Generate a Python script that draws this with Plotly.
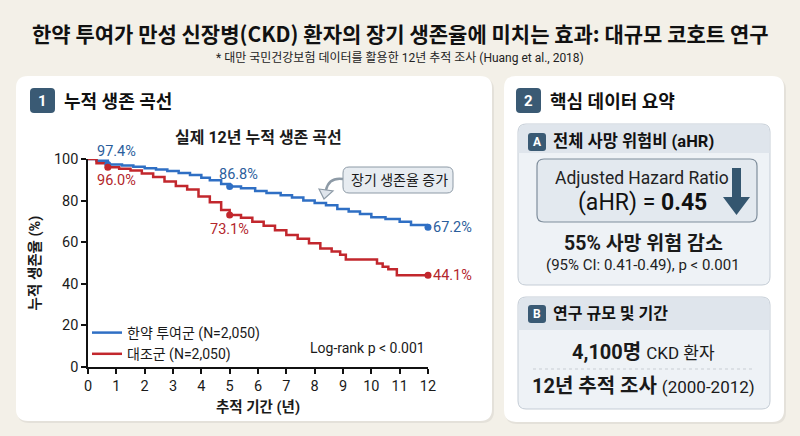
import plotly.graph_objects as go

W, H = 800, 436

# 누적 생존 곡선 데이터
years_herb = [0, 0.3, 0.7, 1.2, 1.6, 2.0, 2.4, 2.8, 3.2, 3.6, 4.0, 4.3, 4.7, 5.0,
              5.4, 5.9, 6.3, 6.8, 7.2, 7.6, 8.0, 8.4, 8.8, 9.2, 9.6, 10.0, 10.5,
              11.0, 11.4, 12.0]
surv_herb = [100, 99.2, 97.4, 96.9, 96.3, 95.6, 94.9, 94.2, 93.3, 92.3, 91.0, 89.8,
             88.0, 86.8, 85.9, 84.6, 83.7, 82.6, 81.5, 80.0, 78.9, 77.8, 76.0, 74.8,
             73.5, 72.0, 71.1, 69.8, 68.3, 67.2]

years_ctrl = [0, 0.3, 0.7, 1.1, 1.5, 1.9, 2.3, 2.7, 3.1, 3.5, 3.9, 4.3, 4.7, 5.0,
              5.4, 5.8, 6.2, 6.6, 7.0, 7.4, 7.8, 8.2, 8.6, 8.9, 9.1, 10.2, 10.4,
              10.6, 10.9, 12.0]
surv_ctrl = [100, 98.0, 96.0, 95.3, 94.5, 93.0, 91.4, 89.2, 87.0, 85.3, 82.0, 79.2,
             75.5, 73.1, 71.8, 69.8, 67.9, 65.8, 63.5, 61.6, 59.5, 57.0, 55.5, 54.0,
             51.7, 49.8, 48.2, 47.0, 44.1, 44.1]

mark_years = [0.7, 5, 12]
mark_herb = [97.4, 86.8, 67.2]
mark_ctrl = [96.0, 73.1, 44.1]

x_ticks = list(range(0, 13))
y_ticks = [0, 20, 40, 60, 80, 100]

BLUE = "#2f6fc4"
RED = "#c2272d"
BLUE_TXT = "#2b5e9c"
RED_TXT = "#b3262b"
SLATE = "#3a5a74"
FONT = "Roboto, 'Noto Sans CJK KR', sans-serif"
KFONT = "'Noto Sans CJK KR', Roboto, sans-serif"


def X(x):
    return x / W


def Y(y):
    return 1 - y / H


def rrect(x0, y0, x1, y1, r, fill, line="rgba(0,0,0,0)", lw=0, bottom=True):
    rb = r if bottom else 0
    p = (f"M{X(x0 + r)},{Y(y0)} L{X(x1 - r)},{Y(y0)} Q{X(x1)},{Y(y0)} {X(x1)},{Y(y0 + r)} "
         f"L{X(x1)},{Y(y1 - rb)} Q{X(x1)},{Y(y1)} {X(x1 - rb)},{Y(y1)} "
         f"L{X(x0 + rb)},{Y(y1)} Q{X(x0)},{Y(y1)} {X(x0)},{Y(y1 - rb)} "
         f"L{X(x0)},{Y(y0 + r)} Q{X(x0)},{Y(y0)} {X(x0 + r)},{Y(y0)} Z")
    return dict(type="path", xref="paper", yref="paper", path=p, fillcolor=fill,
                line=dict(color=line, width=lw), layer="below")


def text(x, y, s, size=14, color="#1a1a1a", anchor="center", font=FONT):
    return dict(x=X(x), y=Y(y), xref="paper", yref="paper", text=s, showarrow=False,
                xanchor=anchor, yanchor="middle", font=dict(size=size, color=color, family=font))


fig = go.Figure()

fig.add_trace(go.Scatter(x=years_herb, y=surv_herb, mode="lines", line_shape="hv",
                         line=dict(color=BLUE, width=2.5), name="한약 투여군 (N=2,050)",
                         cliponaxis=False))
fig.add_trace(go.Scatter(x=years_ctrl, y=surv_ctrl, mode="lines", line_shape="hv",
                         line=dict(color=RED, width=2.5), name="대조군 (N=2,050)",
                         cliponaxis=False))
fig.add_trace(go.Scatter(x=mark_years, y=mark_herb, mode="markers", showlegend=False,
                         marker=dict(color=BLUE, size=7), cliponaxis=False))
fig.add_trace(go.Scatter(x=mark_years, y=mark_ctrl, mode="markers", showlegend=False,
                         marker=dict(color=RED, size=7), cliponaxis=False))

shapes = [
    # 카드 그림자와 카드
    rrect(17, 78, 494, 423, 12, "rgba(0,0,0,0.06)"),
    rrect(16, 76, 492, 421, 12, "white"),
    rrect(505, 78, 786, 424, 12, "rgba(0,0,0,0.06)"),
    rrect(504, 76, 784, 422, 12, "white"),
    # 번호 배지
    rrect(30, 88, 55, 113, 4, SLATE),
    rrect(516, 88, 541, 113, 4, SLATE),
    # 박스 A
    rrect(518, 124, 770, 285, 8, "#eef2f6", "#c5cdd6", 1),
    rrect(518.5, 124.5, 769.5, 153, 8, "#dfe5ec", bottom=False),
    rrect(528, 133, 546, 151, 3, SLATE),
    rrect(537, 159, 757, 222, 7, "#e3e9ef", "#7f8e9c", 1.2),
    # 박스 B
    rrect(518, 297, 770, 409, 8, "#eef2f6", "#c5cdd6", 1),
    rrect(518.5, 297.5, 769.5, 330, 8, "#dfe5ec", bottom=False),
    rrect(528, 305, 546, 323, 3, SLATE),
    # 말풍선
    rrect(343, 167, 453, 193, 6, "#e7ecf1", "#8d9aa6", 1),
]
# 아래 화살표
arrow = (f"M{X(732)},{Y(168)} L{X(741)},{Y(168)} L{X(741)},{Y(197)} L{X(750)},{Y(197)} "
         f"L{X(736.5)},{Y(215)} L{X(723)},{Y(197)} L{X(732)},{Y(197)} Z")
shapes.append(dict(type="path", xref="paper", yref="paper", path=arrow,
                   fillcolor="#34566f", line=dict(width=0)))
# 말풍선 곡선 화살표
curve = f"M{X(343)},{Y(179)} Q{X(329)},{Y(177)} {X(326)},{Y(190)}"
shapes.append(dict(type="path", xref="paper", yref="paper", path=curve,
                   line=dict(color="#8d9aa6", width=2.5)))
head = f"M{X(319)},{Y(189)} L{X(333)},{Y(191)} L{X(324)},{Y(199)} Z"
shapes.append(dict(type="path", xref="paper", yref="paper", path=head,
                   fillcolor="#dfe5ec", line=dict(color="#8d9aa6", width=1.2)))
# 점선 구분선
shapes.append(dict(type="line", xref="paper", yref="paper", x0=X(533), x1=X(755),
                   y0=Y(369), y1=Y(369), line=dict(color="#c9ced4", width=1, dash="dot")))

annotations = [
    text(400, 33, "<b>한약 투여가 만성 신장병(CKD) 환자의 장기 생존율에 미치는 효과: 대규모 코호트 연구</b>",
         21, "#111111", font=KFONT),
    text(400, 58, "* 대만 국민건강보험 데이터를 활용한 12년 추적 조사 (Huang et al., 2018)", 12, "#222222"),
    text(42.5, 100.5, "<b>1</b>", 15, "white"),
    text(62, 101, "<b>누적 생존 곡선</b>", 18, "#111111", "left"),
    text(528.5, 100.5, "<b>2</b>", 15, "white"),
    text(548, 101, "<b>핵심 데이터 요약</b>", 18, "#111111", "left"),
    text(258, 137, "<b>실제 12년 누적 생존 곡선</b>", 16),
    text(537, 142, "<b>A</b>", 12, "white"),
    text(551, 141, "<b>전체 사망 위험비 (aHR)</b>", 16.5, "#111111", "left"),
    text(642, 178, "Adjusted Hazard Ratio", 17.5, "#222222"),
    text(642, 202, "(aHR) = <b>0.45</b>", 23, "#111111"),
    text(643, 243, "<b>55% 사망 위험 감소</b>", 19.5),
    text(643, 265, "(95% CI: 0.41-0.49), p < 0.001", 15, "#222222"),
    text(537, 314, "<b>B</b>", 12, "white"),
    text(551, 313, "<b>연구 규모 및 기간</b>", 16, "#111111", "left"),
    text(643, 352, "<b>4,100명</b> <span style='font-size:17px'>CKD 환자</span>", 20),
    text(643, 386, "<b>12년 추적 조사</b> <span style='font-size:17px'>(2000-2012)</span>", 20),
    text(399, 180, "장기 생존율 증가", 14, "#1a1a1a"),
    text(427, 348, "Log-rank p < 0.001", 14, "#1a1a1a", "right"),
]

# 곡선 위 값 레이블
for xv, yv, dx, dy in zip(mark_years[:2], mark_herb[:2], [9, 9], [13, 12]):
    annotations.append(dict(x=xv, y=yv, xref="x", yref="y", text=f"{yv:.1f}%", showarrow=False,
                            xshift=dx, yshift=dy, font=dict(size=14.5, color=BLUE_TXT, family=FONT)))
for xv, yv, dx, dy in zip(mark_years[:2], mark_ctrl[:2], [9, 0], [-13, -15]):
    annotations.append(dict(x=xv, y=yv, xref="x", yref="y", text=f"{yv:.1f}%", showarrow=False,
                            xshift=dx, yshift=dy, font=dict(size=14.5, color=RED_TXT, family=FONT)))
annotations.append(dict(x=mark_years[2], y=mark_herb[2], xref="x", yref="y", text=f"{mark_herb[2]:.1f}%",
                        showarrow=False, xanchor="left", xshift=3,
                        font=dict(size=14.5, color=BLUE_TXT, family=FONT)))
annotations.append(dict(x=mark_years[2], y=mark_ctrl[2], xref="x", yref="y", text=f"{mark_ctrl[2]:.1f}%",
                        showarrow=False, xanchor="left", xshift=3,
                        font=dict(size=14.5, color=RED_TXT, family=FONT)))

fig.update_layout(
    width=W, height=H,
    margin=dict(l=0, r=0, t=0, b=0),
    paper_bgcolor="#f3f0e8",
    plot_bgcolor="rgba(0,0,0,0)",
    font=dict(family=FONT, color="#1a1a1a"),
    shapes=shapes,
    annotations=annotations,
    legend=dict(x=X(87), y=Y(317), xanchor="left", yanchor="top", bgcolor="rgba(0,0,0,0)",
                font=dict(size=14, color="#1a1a1a"), itemwidth=30, tracegroupgap=0),
    xaxis=dict(domain=[X(88), X(428)], range=[0, 12], tickvals=x_ticks, ticks="outside",
               ticklen=5, tickwidth=1.5, tickcolor="#111", showline=True, linecolor="#111",
               linewidth=1.5, showgrid=False, zeroline=False, automargin=False,
               tickfont=dict(size=14.5, color="#1a1a1a"),
               title=dict(text="<b>추적 기간 (년)</b>", font=dict(size=14.5), standoff=8)),
    yaxis=dict(domain=[Y(367), Y(159)], range=[0, 100], tickvals=y_ticks, ticks="outside",
               ticklen=5, tickwidth=1.5, tickcolor="#111", showline=True, linecolor="#111",
               linewidth=1.5, showgrid=False, zeroline=False, automargin=False,
               tickfont=dict(size=14.5, color="#1a1a1a"),
               title=dict(text="<b>누적 생존율 (%)</b>", font=dict(size=14.5), standoff=10)),
)

fig.write_html("out.html", config={"displayModeBar": False},
               post_script="document.body.style.margin='0';")
